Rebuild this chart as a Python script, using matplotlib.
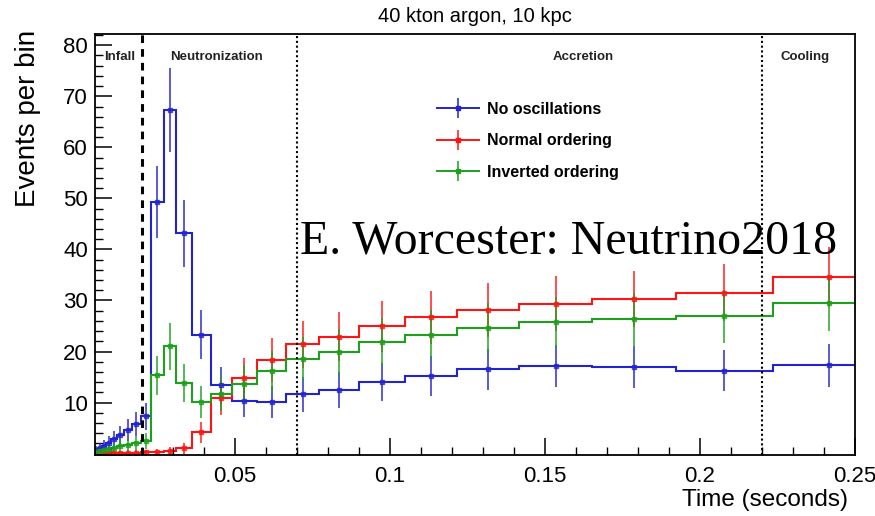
import numpy as np
import matplotlib
matplotlib.use('Agg')
import matplotlib.pyplot as plt
from matplotlib.lines import Line2D
from matplotlib.ticker import MultipleLocator, FixedLocator


# bin edges (seconds), read from the step positions
edges = [0.0048, 0.0057, 0.0069, 0.0083, 0.0100, 0.0118, 0.0140, 0.0166, 0.0195,
         0.0229, 0.0269, 0.0310, 0.0360, 0.0423, 0.0489, 0.0570, 0.0665, 0.0772,
         0.0899, 0.1047, 0.1217, 0.1417, 0.1651, 0.1922, 0.2236, 0.2600]

no_osc = [0.7, 1.0, 1.4, 2.0, 2.8, 3.6, 4.6, 5.8, 7.3, 49.3, 67.3, 43.2, 23.3,
          13.4, 10.3, 10.1, 11.6, 12.4, 14.0, 15.2, 16.5, 17.1, 16.9, 16.2, 17.3]
normal = [0.05, 0.05, 0.1, 0.1, 0.1, 0.15, 0.2, 0.2, 0.25, 0.3, 0.5, 1.0, 4.2,
          10.9, 14.8, 18.4, 21.4, 22.9, 24.9, 26.7, 28.2, 29.4, 30.2, 31.5, 34.6]
inverted = [0.3, 0.5, 0.7, 0.9, 1.1, 1.4, 1.7, 2.0, 2.4, 15.3, 21.0, 13.8, 10.1,
            11.7, 13.7, 16.1, 18.6, 19.9, 21.8, 23.3, 24.6, 25.7, 26.3, 26.9, 29.5]

labels = ['No oscillations', 'Normal ordering', 'Inverted ordering']
colors = ['#2424cc', '#ff1414', '#1ea01e']

phases = ['Infall', 'Neutronization', 'Accretion', 'Cooling']
phase_x = [0.0129, 0.0439, 0.1623, 0.2339]
phase_bounds = [0.02, 0.07, 0.22]

plt.rcParams['font.family'] = ['Liberation Sans', 'DejaVu Sans']

fig = plt.figure(figsize=(8.75, 5.16), dpi=100)
ax = fig.add_axes([0.1086, 0.118, 0.8684, 0.816])

edges = np.array(edges)
centers = 0.5 * (edges[:-1] + edges[1:])

handles = []
for vals, col, lab in zip([no_osc, normal, inverted], colors, labels):
    vals = np.array(vals)
    ax.stairs(vals, edges, baseline=None, color=col, lw=1.5)
    ax.errorbar(centers, vals, yerr=np.sqrt(vals), fmt='s', ms=2.5, color=col,
                ecolor=col, elinewidth=1.4, capsize=0, alpha=0.75)
    h = (Line2D([], [], color=col, lw=1.4),
         Line2D([], [], color=col, marker='|', ms=14, mew=1.4, ls='none', alpha=0.8),
         Line2D([], [], color=col, marker='s', ms=2.5, ls='none'))
    handles.append(h)

# phase boundaries
ax.axvline(phase_bounds[0], color='black', ls=(0, (2.5, 2)), lw=2.2)
for xb in phase_bounds[1:]:
    ax.axvline(xb, color='black', ls=(0, (1, 1.3)), lw=1.5)

for name, xp in zip(phases, phase_x):
    ax.text(xp, 77.8, name, ha='center', va='center', fontsize=9.5, fontweight='bold',
            color='#222222')

ax.set_xlim(0.0048, 0.25)
ax.set_ylim(-0.3, 82.2)

ax.xaxis.set_major_locator(FixedLocator([0.05, 0.1, 0.15, 0.2, 0.25]))
ax.xaxis.set_minor_locator(MultipleLocator(0.01))
ax.set_xticklabels(['0.05', '0.1', '0.15', '0.2', '0.25'])
ax.yaxis.set_major_locator(FixedLocator([10, 20, 30, 40, 50, 60, 70, 80]))
ax.yaxis.set_minor_locator(MultipleLocator(2))
ax.tick_params(which='both', direction='in', top=False, right=False, labelsize=16)
ax.tick_params(which='major', length=12, width=1.1)
ax.tick_params(which='minor', length=6, width=1.0)
ax.tick_params(axis='x', pad=8)
ax.tick_params(axis='y', pad=5)
for sp in ax.spines.values():
    sp.set_linewidth(1.3)

leg = ax.legend(handles, labels, loc='upper left', bbox_to_anchor=(437 / 875, 1 - 102 / 516),
                bbox_transform=fig.transFigure, frameon=False,
                prop={'weight': 'bold', 'size': 11.5}, handlelength=2.6,
                handletextpad=0.55, labelspacing=1.02, borderpad=0, borderaxespad=0)

fig.text(475 / 875, 1 - 16 / 516, '40 kton argon, 10 kpc', ha='center', va='center',
         fontsize=14.5)
fig.text(28 / 875, 1 - 30 / 516, 'Events per bin', rotation=90, ha='center', va='top',
         fontsize=20)
fig.text(848 / 875, 1 - 500 / 516, 'Time (seconds)', ha='right', va='center', fontsize=17.5)
fig.text(300 / 875, 1 - 254 / 516, 'E. Worcester: Neutrino2018', ha='left', va='baseline',
         fontsize=34.5, family='Liberation Serif')

plt.savefig('out.png', dpi=100)
